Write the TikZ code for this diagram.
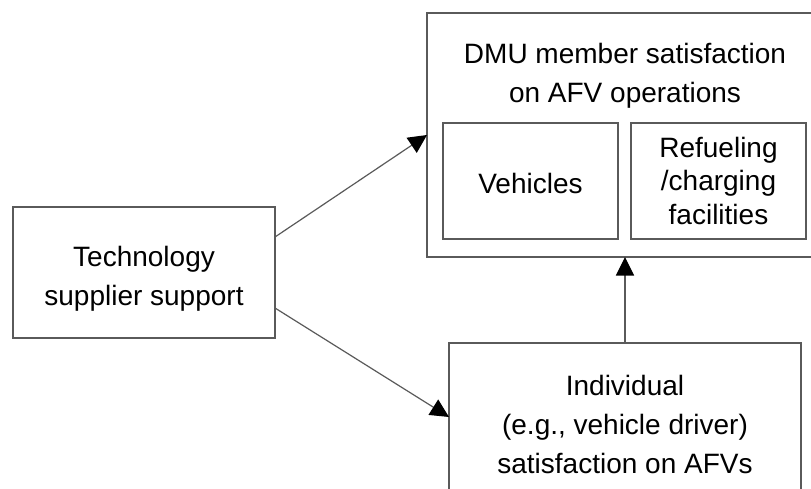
\documentclass[tikz,border=0pt]{standalone}
\usepackage{fontspec}
\setmainfont{Liberation Sans}
\usetikzlibrary{arrows.meta}
\definecolor{edgegray}{HTML}{5A5A5A}
\tikzset{
  box/.style={draw=edgegray, line width=1.5pt, rectangle, inner sep=0pt, outer sep=0pt},
  label/.style={align=center, inner sep=0pt, font=\fontsize{28}{39}\selectfont},
  link/.style={draw=edgegray, line width=1.2pt,
    -{Triangle[length=18.5pt,width=18pt,black]}},
}
\begin{document}
\begin{tikzpicture}[x=1pt,y=-1pt]
  \clip (0,0) rectangle (811,489);
  \fill[white] (0,0) rectangle (811,489);

  % boxes
  \node[box, minimum width=262pt, minimum height=131pt] (tech) at (144,272.5) {};
  \node[box, minimum width=396pt, minimum height=244pt] (dmu) at (625,135) {};
  \node[box, minimum width=175pt, minimum height=116pt] (veh) at (530.5,181) {};
  \node[box, minimum width=175pt, minimum height=116pt] (fuel) at (718.5,181) {};
  \node[box, minimum width=352pt, minimum height=148pt] (indiv) at (625,417) {};

  % texts
  \node[label] (techtxt) at (144,278.5) {Technology\\supplier support};
  \node[label] (dmutxt) at (625,76) {DMU member satisfaction\\on AFV operations};
  \node[label] (vehtxt) at (530.5,183.5) {Vehicles};
  \node[label, font=\fontsize{28}{33.5}\selectfont] (fueltxt) at (718.5,180.5) {Refueling\\/charging\\facilities};
  \node[label] (indivtxt) at (625,424) {Individual\\(e.g., vehicle driver)\\satisfaction on AFVs};

  % connectors
  \draw[link] ([yshift=35.5pt]tech.east) -- (dmu.west);
  \draw[link] ([yshift=-35.5pt]tech.east) -- (indiv.west);
  \draw[link] (indiv.north) -- (dmu.south);
\end{tikzpicture}
\end{document}
